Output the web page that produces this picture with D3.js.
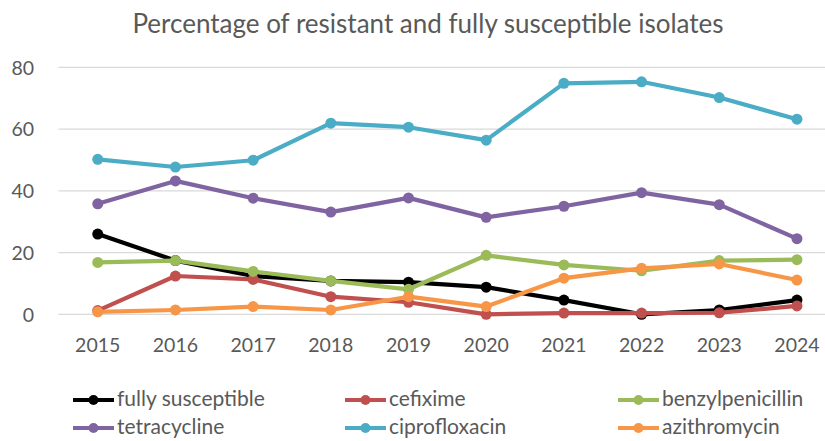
<!DOCTYPE html>
<html><head><meta charset="utf-8">
<script src="https://cdn.jsdelivr.net/npm/d3@7"></script>
<style>
html,body{margin:0;padding:0;background:#fff;}
svg{display:block;}
text{font-family:Lato,"Open Sans",sans-serif;fill:#595959;}
</style></head>
<body>
<svg id="chart" width="825" height="441"></svg>
<script>
const years = ["2015","2016","2017","2018","2019","2020","2021","2022","2023","2024"];
const yTicks = [0,20,40,60,80];
const fullySusceptible = [26.0,17.4,12.4,10.8,10.4,8.8,4.6,0.0,1.4,4.6];
const cefixime = [1.2,12.4,11.3,5.7,3.9,0.0,0.4,0.4,0.5,2.7];
const benzylpenicillin = [16.8,17.4,13.9,10.8,8.1,19.1,16.0,14.1,17.4,17.7];
const tetracycline = [35.8,43.2,37.6,33.1,37.7,31.4,35.0,39.4,35.5,24.5];
const ciprofloxacin = [50.2,47.7,49.9,61.9,60.6,56.4,74.8,75.3,70.2,63.2];
const azithromycin = [0.8,1.4,2.5,1.4,5.7,2.5,11.7,14.9,16.3,11.1];
const seriesNames = ["fully susceptible","cefixime","benzylpenicillin","tetracycline","ciprofloxacin","azithromycin"];
const seriesValues = [fullySusceptible,cefixime,benzylpenicillin,tetracycline,ciprofloxacin,azithromycin];
const colors = ["#000000","#C0504D","#9BBB59","#8064A2","#4BACC6","#F79646"];
const title = "Percentage of resistant and fully susceptible isolates";

const svg = d3.select("#chart");
const x = d3.scaleBand().domain(years).range([58.9, 835.8]).padding(0);
const y = d3.scaleLinear().domain([0,80]).range([314.3, 67.3]);
const cx = d => x(d) + x.bandwidth()/2;

// title
svg.append("text").attr("x", 428).attr("y", 33).attr("text-anchor","middle")
  .style("font-size","26px").text(title);

// gridlines
svg.append("g").selectAll("line").data(yTicks).join("line")
  .attr("x1", 58.5).attr("x2", 825).attr("y1", d=>y(d)).attr("y2", d=>y(d))
  .attr("stroke","#d9d9d9").attr("stroke-width",1.3);

// y axis
const yAxis = svg.append("g").attr("transform","translate(46,0)")
  .call(d3.axisLeft(y).tickValues(yTicks).tickSize(0).tickPadding(12));
yAxis.select(".domain").remove();
yAxis.selectAll("text").style("font-size","19.5px").attr("fill","#595959").attr("dy","0.35em");

// x axis
const xAxis = svg.append("g").attr("transform","translate(0,330)")
  .call(d3.axisBottom(x).tickSize(0).tickPadding(8));
xAxis.select(".domain").remove();
xAxis.selectAll("text").style("font-size","19.5px").attr("fill","#595959");

// lines
const line = d3.line().x((d,i)=>cx(years[i])).y(d=>y(d));
seriesValues.forEach((vals,si)=>{
  const g = svg.append("g");
  g.append("path").datum(vals).attr("d", line).attr("fill","none")
    .attr("stroke", colors[si]).attr("stroke-width",4.2).attr("stroke-linejoin","round");
  g.selectAll("circle").data(vals).join("circle")
    .attr("cx",(d,i)=>cx(years[i])).attr("cy",d=>y(d)).attr("r",5.5).attr("fill",colors[si]);
});

// legend
const legPos = [[73,400],[345,400],[618,400],[73,428],[345,428],[618,428]];
seriesNames.forEach((name,i)=>{
  const [lx,ly] = legPos[i];
  const g = svg.append("g");
  g.append("line").attr("x1",lx).attr("x2",lx+41).attr("y1",ly).attr("y2",ly)
    .attr("stroke",colors[i]).attr("stroke-width",4.2);
  g.append("circle").attr("cx",lx+20.5).attr("cy",ly).attr("r",5).attr("fill",colors[i]);
  g.append("text").attr("x",lx+44).attr("y",ly).attr("dy","0.3em")
    .style("font-size","21px").text(name);
});
</script>
</body></html>
